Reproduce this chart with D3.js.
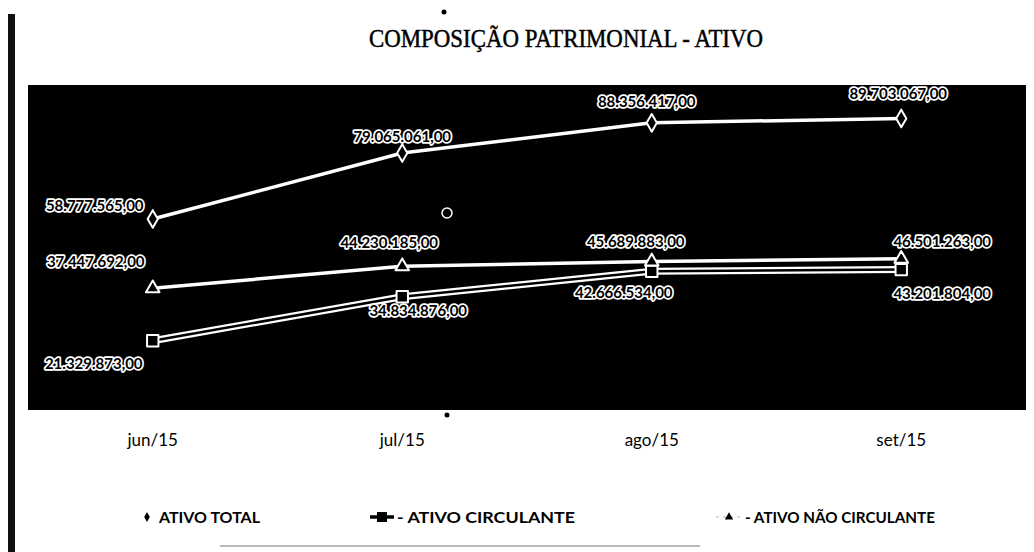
<!DOCTYPE html>
<html>
<head>
<meta charset="utf-8">
<script src="https://cdn.jsdelivr.net/npm/d3@7"></script>
<style>
body{margin:0;background:#fff;}
svg{display:block;}
.lbl{font-family:Lato,'Liberation Sans Narrow',sans-serif;font-weight:700;font-size:15px;fill:#000;stroke:#fff;stroke-width:3.5px;paint-order:stroke;stroke-linejoin:round;}
</style>
</head>
<body class="bod">
<script>
//data
const months = ['jun/15','jul/15','ago/15','set/15']
const ativoTotal = [58777565, 79065061, 88356417, 89703067]
const ativoCirculante = [21329873, 34834876, 42666534, 43201804]
const ativoNaoCirculante = [37447692, 44230185, 45689883, 46501263]
const seriesNames = ['ATIVO TOTAL','- ATIVO CIRCULANTE','- ATIVO NÃO CIRCULANTE']
const yTicks = [0, 100000000]

//label offsets (layout only)
const offTotal = [[-58,-8],[0,-11],[-5,-16],[-3,-19]]
const offCirc = [[-59,28],[16,19],[-28,27],[41,29]]
const offNao = [[-57,-21],[-13,-18],[-16,-15],[41,-12]]

var size = {width:1034,height:552,plot:{x0:28,x1:1026,y0:85,y1:410}}

const ptBR = d3.formatLocale({decimal:',',thousands:'.',grouping:[3],currency:['R$','']})
const fmt = ptBR.format(',.2f')

const svg = d3.select('.bod').append('svg')
  .attr('width',size.width)
  .attr('height',size.height)

//scan artefacts
svg.append('rect').attr('x',8).attr('y',14).attr('width',7).attr('height',538).attr('fill','#111')
svg.append('line').attr('x1',220).attr('x2',700).attr('y1',546).attr('y2',546).attr('stroke','#bbb').attr('stroke-width',2)
svg.append('circle').attr('cx',444).attr('cy',12).attr('r',2.5).attr('fill','#000')

//title
svg.append('text')
  .attr('x',566).attr('y',47)
  .attr('text-anchor','middle')
  .attr('textLength',394).attr('lengthAdjust','spacingAndGlyphs')
  .style('font-family','"Liberation Serif",serif')
  .style('font-size','26px')
  .attr('stroke','#000').attr('stroke-width',0.5)
  .text('COMPOSIÇÃO PATRIMONIAL - ATIVO')

//plot area
const p = size.plot
svg.append('rect').attr('x',p.x0).attr('y',p.y0).attr('width',p.x1-p.x0).attr('height',p.y1-p.y0).attr('fill','#000')

const x = d3.scaleBand().domain(months).range([p.x0,p.x1])
const y = d3.scaleLinear().domain(d3.extent(yTicks)).range([p.y1,p.y0])
const cx = m => x(m)+x.bandwidth()/2

//x axis
const xAxis = svg.append('g')
  .attr('transform',`translate(0,${p.y1+24})`)
  .call(d3.axisBottom(x).tickSize(0).tickPadding(0))
xAxis.select('.domain').remove()
xAxis.selectAll('text')
  .style('font-family','Lato,sans-serif')
  .style('font-size','17px')
  .attr('fill','#000')

const line = d3.line().x((d,i)=>cx(months[i])).y(d=>y(d))

//ativo circulante (outlined line)
svg.append('path').datum(ativoCirculante).attr('d',line).attr('fill','none').attr('stroke','#fff').attr('stroke-width',7)
svg.append('path').datum(ativoCirculante).attr('d',line).attr('fill','none').attr('stroke','#000').attr('stroke-width',2.5)
//ativo nao circulante
svg.append('path').datum(ativoNaoCirculante).attr('d',line).attr('fill','none').attr('stroke','#fff').attr('stroke-width',3.5)
//ativo total
svg.append('path').datum(ativoTotal).attr('d',line).attr('fill','none').attr('stroke','#fff').attr('stroke-width',3.5)

//markers
const mark = (vals,type,sz) => {
  svg.append('g').selectAll('path').data(vals).enter().append('path')
    .attr('transform',(d,i)=>`translate(${cx(months[i])},${y(d)})`)
    .attr('d',d3.symbol().type(type).size(sz))
    .attr('fill','#000').attr('stroke','#fff').attr('stroke-width',2).attr('stroke-linejoin','round')
}
mark(ativoTotal,d3.symbolDiamond,90)
mark(ativoCirculante,d3.symbolSquare,130)
mark(ativoNaoCirculante,d3.symbolTriangle,80)

//data labels
const labels = (vals,off) => {
  svg.append('g').selectAll('text').data(vals).enter().append('text')
    .classed('lbl',true)
    .attr('x',(d,i)=>cx(months[i])+off[i][0])
    .attr('y',(d,i)=>y(d)+off[i][1])
    .attr('text-anchor','middle')
    .text(d=>fmt(d))
}
labels(ativoTotal,offTotal)
labels(ativoNaoCirculante,offNao)
labels(ativoCirculante,offCirc)

//stray scan marks
svg.append('circle').attr('cx',447).attr('cy',213).attr('r',5).attr('fill','none').attr('stroke','#fff').attr('stroke-width',1.5)
svg.append('circle').attr('cx',447).attr('cy',415).attr('r',2.5).attr('fill','#000')

//legend
const legY = 517
const leg = svg.append('g').style('font-family','Lato,sans-serif').style('font-size','16px').style('font-weight','700')
leg.append('path').attr('transform',`translate(147,${legY})`).attr('d',d3.symbol().type(d3.symbolDiamond).size(28)).attr('fill','#000')
leg.append('text').attr('x',159).attr('y',legY+6).text(seriesNames[0])
leg.append('line').attr('x1',370).attr('x2',394).attr('y1',legY).attr('y2',legY).attr('stroke','#000').attr('stroke-width',3.5)
leg.append('rect').attr('x',377).attr('y',legY-5).attr('width',10).attr('height',10).attr('fill','#000')
leg.append('text').attr('x',397).attr('y',legY+6).attr('textLength',178).attr('lengthAdjust','spacingAndGlyphs').text(seriesNames[1])
leg.append('line').attr('x1',716).attr('x2',742).attr('y1',legY).attr('y2',legY).attr('stroke','#ccc').attr('stroke-width',1.5).attr('stroke-dasharray','3,4')
leg.append('path').attr('transform',`translate(729,${legY})`).attr('d',d3.symbol().type(d3.symbolTriangle).size(30)).attr('fill','#000')
leg.append('text').attr('x',745).attr('y',legY+6).attr('textLength',190).attr('lengthAdjust','spacingAndGlyphs').text(seriesNames[2])
</script>
</body>
</html>
